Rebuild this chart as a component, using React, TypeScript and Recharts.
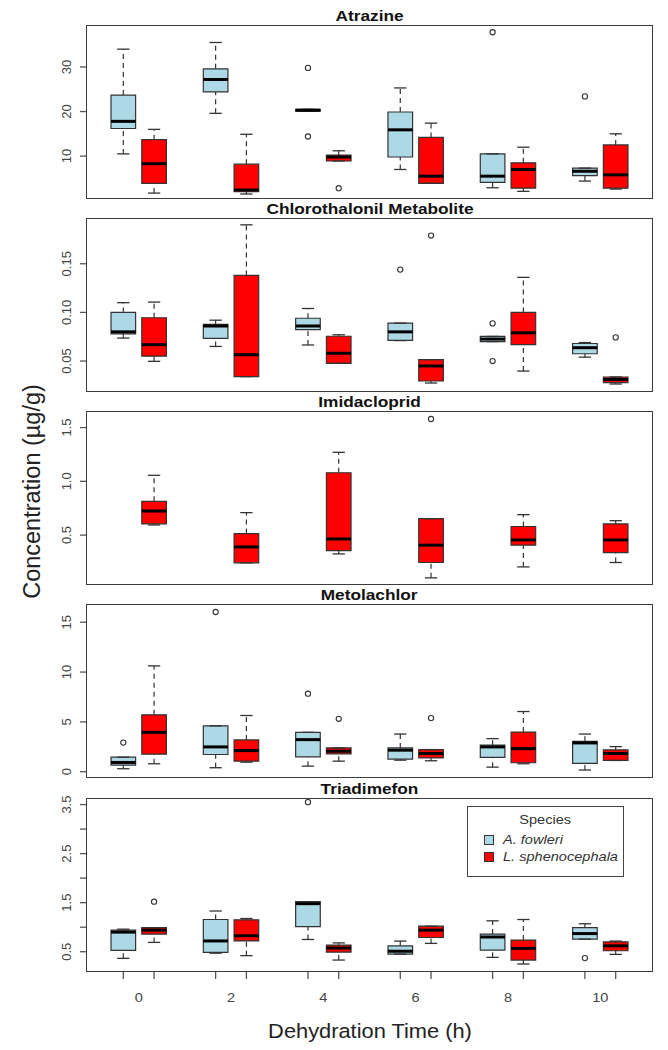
import { ComposedChart, XAxis, YAxis, Scatter, ReferenceArea, ReferenceLine, Legend } from 'recharts'

// five-number summaries per dehydration time: [lower whisker, Q1, median, Q3, upper whisker]
type Five = [number, number, number, number, number] | null

const TIMES = ['0', '2', '4', '6', '8', '10']

const SPECIES = [
  { name: 'A. fowleri', color: '#ADD8E6' },
  { name: 'L. sphenocephala', color: '#FF0000' },
]

const atrazineFowleri: Five[] = [
  [10.5, 16.2, 17.8, 23.7, 34.0],
  [19.6, 24.4, 27.2, 29.6, 35.5],
  [20.1, 20.1, 20.3, 20.5, 20.5],
  [7.0, 9.8, 15.9, 19.9, 25.3],
  [2.9, 4.1, 5.5, 10.5, 10.5],
  [4.4, 5.6, 6.6, 7.3, 7.3],
]
const atrazineFowleriOut = [[], [], [29.8, 14.4], [], [37.8], [23.4]]
const atrazineSpheno: Five[] = [
  [1.7, 3.9, 8.3, 13.7, 16.0],
  [1.5, 2.0, 2.4, 8.2, 14.9],
  [8.9, 8.9, 9.8, 10.2, 11.2],
  [3.9, 3.9, 5.5, 14.2, 17.4],
  [2.1, 2.8, 7.0, 8.5, 12.0],
  [2.6, 2.8, 5.8, 12.5, 15.0],
]
const atrazineSphenoOut = [[], [], [2.8], [], [], []]

const chloroFowleri: Five[] = [
  [0.0736, 0.078, 0.08, 0.1, 0.11],
  [0.065, 0.0733, 0.086, 0.0877, 0.092],
  [0.0665, 0.0822, 0.086, 0.094, 0.104],
  [0.071, 0.0712, 0.08, 0.089, 0.089],
  [0.07, 0.07, 0.0726, 0.0753, 0.0753],
  [0.054, 0.0575, 0.0637, 0.068, 0.069],
]
const chloroFowleriOut = [[], [], [], [0.144], [0.0887, 0.05], []]
const chloroSpheno: Five[] = [
  [0.0497, 0.055, 0.0668, 0.0945, 0.1106],
  [0.034, 0.034, 0.0565, 0.138, 0.19],
  [0.0476, 0.0476, 0.058, 0.0755, 0.077],
  [0.0274, 0.0295, 0.0449, 0.0514, 0.0514],
  [0.0397, 0.0668, 0.079, 0.1, 0.136],
  [0.0264, 0.0278, 0.031, 0.0336, 0.0336],
]
const chloroSphenoOut = [[], [], [], [0.179], [], [0.0743]]

const imidaFowleri: Five[] = [null, null, null, null, null, null]
const imidaFowleriOut = [[], [], [], [], [], []]
const imidaSpheno: Five[] = [
  [0.594, 0.604, 0.724, 0.814, 1.056],
  [0.242, 0.242, 0.39, 0.514, 0.709],
  [0.325, 0.356, 0.464, 1.08, 1.27],
  [0.102, 0.245, 0.406, 0.653, 0.653],
  [0.204, 0.406, 0.455, 0.58, 0.69],
  [0.245, 0.337, 0.455, 0.604, 0.634],
]
const imidaSphenoOut = [[], [], [], [1.58], [], []]

const metolFowleri: Five[] = [
  [0.3, 0.66, 0.93, 1.46, 1.46],
  [0.4, 1.73, 2.49, 4.61, 4.61],
  [0.56, 1.49, 3.22, 3.95, 3.95],
  [1.16, 1.26, 2.16, 2.39, 3.78],
  [0.46, 1.43, 2.49, 2.66, 3.32],
  [0.17, 0.83, 2.89, 3.05, 3.78],
]
const metolFowleriOut = [[2.92], [16.03], [7.83], [], [], []]
const metolSpheno: Five[] = [
  [0.8, 1.76, 3.95, 5.71, 10.62],
  [0.96, 1.06, 2.12, 3.19, 5.64],
  [1.06, 1.79, 2.06, 2.39, 2.39],
  [1.1, 1.39, 1.83, 2.22, 2.22],
  [0.8, 0.9, 2.32, 3.98, 6.04],
  [1.13, 1.13, 1.83, 2.19, 2.52],
]
const metolSphenoOut = [[], [], [5.31], [5.38], [], []]

const triadFowleri: Five[] = [
  [0.365, 0.527, 0.9, 0.94, 0.96],
  [0.47, 0.487, 0.72, 1.157, 1.33],
  [0.75, 1.01, 1.48, 1.52, 1.52],
  [0.453, 0.453, 0.51, 0.62, 0.717],
  [0.385, 0.534, 0.8, 0.86, 1.13],
  [0.757, 0.757, 0.87, 0.99, 1.07],
]
const triadFowleriOut = [[], [], [3.55], [], [], [0.37]]
const triadSpheno: Five[] = [
  [0.69, 0.86, 0.94, 0.99, 0.99],
  [0.42, 0.72, 0.825, 1.15, 1.177],
  [0.33, 0.493, 0.575, 0.635, 0.68],
  [0.67, 0.79, 0.94, 1.02, 1.02],
  [0.25, 0.33, 0.568, 0.737, 1.157],
  [0.446, 0.52, 0.62, 0.7, 0.717],
]
const triadSphenoOut = [[1.52], [], [], [], [], []]

const PANELS = [
  {
    title: 'Atrazine', top: 26, domain: [0.6, 39.2],
    ticks: [10, 20, 30], tickText: ['10', '20', '30'],
    stats: [atrazineFowleri, atrazineSpheno], outliers: [atrazineFowleriOut, atrazineSphenoOut],
  },
  {
    title: 'Chlorothalonil Metabolite', top: 219, domain: [0.0192, 0.196],
    ticks: [0.05, 0.1, 0.15], tickText: ['0.05', '0.10', '0.15'],
    stats: [chloroFowleri, chloroSpheno], outliers: [chloroFowleriOut, chloroSphenoOut],
  },
  {
    title: 'Imidacloprid', top: 412, domain: [0.045, 1.645],
    ticks: [0.5, 1, 1.5], tickText: ['0.5', '1.0', '1.5'],
    stats: [imidaFowleri, imidaSpheno], outliers: [imidaFowleriOut, imidaSphenoOut],
  },
  {
    title: 'Metolachlor', top: 605, domain: [-0.53, 16.73],
    ticks: [0, 5, 10, 15], tickText: ['0', '5', '10', '15'],
    stats: [metolFowleri, metolSpheno], outliers: [metolFowleriOut, metolSphenoOut],
  },
  {
    title: 'Triadimefon', top: 799, domain: [0.107, 3.614],
    ticks: [0.5, 1, 1.5, 2, 2.5, 3, 3.5], tickText: ['0.5', '', '1.5', '', '2.5', '', '3.5'],
    stats: [triadFowleri, triadSpheno], outliers: [triadFowleriOut, triadSphenoOut],
  },
]

const FONT = '"Liberation Sans", Arial, Helvetica, sans-serif'
const INK = '#333'
const PLOT_H = 172
const PAD_TOP = 12
const STRETCH = 1.12 // the source figure is a little wider than tall
const X_DOMAIN = [-0.18, 18.18]
const boxX = (group: number, sp: number) => 3 * group + 1 + sp
const BOX_TICKS = TIMES.flatMap((_, i) => [boxX(i, 0), boxX(i, 1)])
const LABEL_TICKS = TIMES.map((_, i) => boxX(i, 0) + 0.5)

function boxes(panel: typeof PANELS[number], pid: number) {
  const els: any[] = []
  panel.stats.forEach((ser, s) => {
    ser.forEach((st, i) => {
      if (!st) return
      const [lo, q1, med, q3, hi] = st
      const x = boxX(i, s)
      const k = `${pid}-${s}-${i}`
      if (hi > q3) {
        els.push(<ReferenceLine key={k + 'wu'} segment={[{ x, y: q3 }, { x, y: hi }]} stroke={INK} strokeWidth={1.2} strokeDasharray="5 4" />)
      }
      if (lo < q1) {
        els.push(<ReferenceLine key={k + 'wl'} segment={[{ x, y: lo }, { x, y: q1 }]} stroke={INK} strokeWidth={1.2} strokeDasharray="5 4" />)
      }
      els.push(<ReferenceLine key={k + 'cu'} segment={[{ x: x - 0.2, y: hi }, { x: x + 0.2, y: hi }]} stroke={INK} strokeWidth={1.3} />)
      els.push(<ReferenceLine key={k + 'cl'} segment={[{ x: x - 0.2, y: lo }, { x: x + 0.2, y: lo }]} stroke={INK} strokeWidth={1.3} />)
      els.push(
        <ReferenceArea key={k + 'b'} x1={x - 0.4} x2={x + 0.4} y1={q1} y2={q3}
          fill={SPECIES[s].color} fillOpacity={1} stroke={INK} strokeWidth={1.2} />
      )
      els.push(<ReferenceLine key={k + 'm'} segment={[{ x: x - 0.4, y: med }, { x: x + 0.4, y: med }]} stroke="#000" strokeWidth={3} />)
    })
  })
  return els
}

function outlierData(panel: typeof PANELS[number]) {
  const pts: { x: number; y: number }[] = []
  panel.outliers.forEach((ser, s) => ser.forEach((vals, i) => vals.forEach((y) => pts.push({ x: boxX(i, s), y }))))
  return pts
}

const Ring = (props: any) => <circle cx={props.cx} cy={props.cy} r={2.6} fill="none" stroke={INK} strokeWidth={1.1} />

const YTick = ({ x, y, payload, panel }: any) => {
  const idx = panel.ticks.findIndex((t: number) => Math.abs(t - payload.value) < 1e-9)
  const txt = idx >= 0 ? panel.tickText[idx] : ''
  if (!txt) return <g />
  return (
    <text transform={`translate(${x - 9.3},${y}) rotate(-90)`} textAnchor="middle" fontSize={13} fill="#444" fontFamily={FONT}>
      {txt}
    </text>
  )
}

const XTick = ({ x, y, payload }: any) => {
  const li = LABEL_TICKS.indexOf(payload.value)
  if (li >= 0) {
    return (
      <text transform={`translate(${x},${y + 31}) scale(${STRETCH},1)`} textAnchor="middle" fontSize={13} fill="#444" fontFamily={FONT}>
        {TIMES[li]}
      </text>
    )
  }
  return <line x1={x} y1={y} x2={x} y2={y + 8} stroke="#555" strokeWidth={1.3} />
}

const stretched = (origin: string) => ({ display: 'inline-block', transform: `scaleX(${STRETCH})`, transformOrigin: origin })

const SpeciesLegend = () => (
  <div style={{ width: 157, height: 71, boxSizing: 'border-box', border: '1.5px solid #444', background: '#fff', fontFamily: FONT, fontSize: 13, color: '#333' }}>
    <div style={{ textAlign: 'center', marginTop: 4, lineHeight: '17px' }}>
      <span style={stretched('center')}>Species</span>
    </div>
    {SPECIES.map((s) => (
      <div key={s.name} style={{ display: 'flex', alignItems: 'center', height: 17, marginTop: s === SPECIES[0] ? 3 : 0 }}>
        <span style={{ width: 8, height: 8, background: s.color, border: '1px solid #333', marginLeft: 16, marginRight: 9 }} />
        <span style={{ ...stretched('left'), fontStyle: 'italic' }}>{s.name}</span>
      </div>
    ))}
  </div>
)

export default function App() {
  return (
    <div style={{ position: 'absolute', left: 0, top: 0, width: 668, height: 1050, background: '#fff', fontFamily: FONT }}>
      {PANELS.map((p, pid) => {
        const last = pid === PANELS.length - 1
        return (
          <div key={p.title}>
            <div style={{ position: 'absolute', left: 87, width: 565, top: p.top - 19, textAlign: 'center', fontWeight: 'bold', fontSize: 15, lineHeight: '17px', color: '#111' }}>
              <span style={{ ...stretched('center'), transform: 'scaleX(1.15)' }}>{p.title}</span>
            </div>
            <div style={{ position: 'absolute', left: 0, top: p.top - PAD_TOP }}>
              <ComposedChart width={668} height={PLOT_H + PAD_TOP + (last ? 50 : 0)} margin={{ top: PAD_TOP, right: 16, bottom: 0, left: 0 }}>
                <XAxis type="number" dataKey="x" domain={X_DOMAIN} allowDataOverflow hide={!last}
                  ticks={last ? [...BOX_TICKS, ...LABEL_TICKS].sort((a, b) => a - b) : undefined}
                  interval={0} tickLine={false} axisLine={false} tickSize={0} tickMargin={0} height={50} tick={<XTick />} />
                <YAxis type="number" dataKey="y" domain={p.domain} allowDataOverflow ticks={p.ticks} interval={0}
                  width={87} tickSize={7} tickMargin={0} axisLine={false} tickLine={{ stroke: '#555', strokeWidth: 1.3 }}
                  tick={(props: any) => <YTick {...props} panel={p} />} />
                {boxes(p, pid)}
                <Scatter data={outlierData(p)} shape={Ring} isAnimationActive={false} />
                {last && (
                  <Legend layout="horizontal" verticalAlign="middle" content={() => <SpeciesLegend />}
                    wrapperStyle={{ left: 467, top: PAD_TOP + 7, width: 157, height: 71 }} />
                )}
              </ComposedChart>
            </div>
            <div style={{ position: 'absolute', left: 86, top: p.top - 1, width: 567, height: PLOT_H + 2, boxSizing: 'border-box', border: '1.5px solid #3c3c3c', pointerEvents: 'none' }} />
          </div>
        )
      })}
      <svg width={668} height={1050} style={{ position: 'absolute', left: 0, top: 0, pointerEvents: 'none' }}>
        <text transform="translate(40,491.5) rotate(-90)" textAnchor="middle" fontSize={23.5} fill="#222" fontFamily={FONT}>
          Concentration (µg/g)
        </text>
        <text transform={`translate(370,1038) scale(${STRETCH},1)`} textAnchor="middle" fontSize={19.5} fill="#222" fontFamily={FONT}>
          Dehydration Time (h)
        </text>
      </svg>
    </div>
  )
}
